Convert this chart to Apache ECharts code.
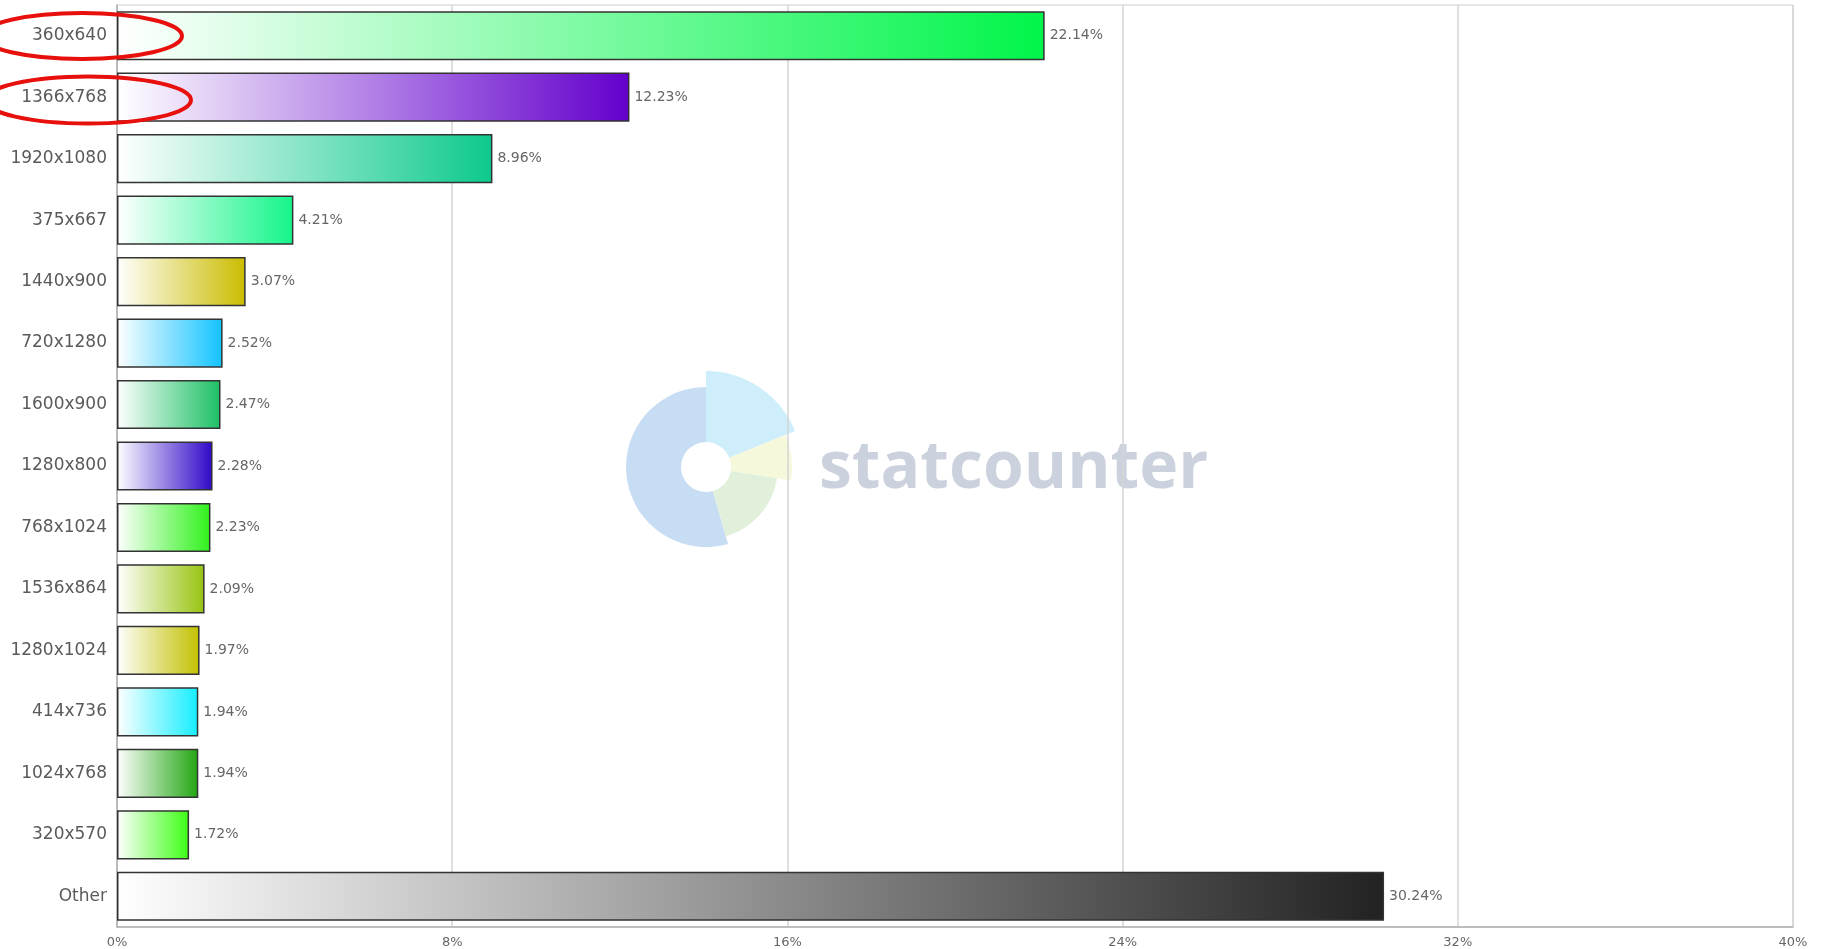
<!DOCTYPE html>
<html>
<head>
<meta charset="utf-8">
<script src="https://cdn.jsdelivr.net/npm/echarts@6/dist/echarts.min.js"></script>
<style>
  html, body { margin: 0; padding: 0; background: #fff; }
  #main { width: 1829px; height: 949px; }
</style>
</head>
<body>
<div id="main"></div>
<script>
// screen resolutions share (%)
var resolutions = ['360x640', '1366x768', '1920x1080', '375x667', '1440x900', '720x1280', '1600x900',
  '1280x800', '768x1024', '1536x864', '1280x1024', '414x736', '1024x768', '320x570', 'Other'];
var shares = [22.14, 12.23, 8.96, 4.21, 3.07, 2.52, 2.47, 2.28, 2.23, 2.09, 1.97, 1.94, 1.94, 1.72, 30.24];
// right-end colour of each bar gradient
var barColors = ['#00f54a', '#6300cc', '#0dc98e', '#14f58a', '#cbbc00', '#12c3ff', '#1cc064',
  '#3008c8', '#2ef21a', '#98c410', '#c2c000', '#14eeff', '#22a612', '#3cff14', '#222222'];
var xTicks = [0, 8, 16, 24, 32, 40];

var myChart = echarts.init(document.getElementById('main'));

var barData = shares.map(function (v, i) {
  return {
    value: v,
    itemStyle: {
      color: new echarts.graphic.LinearGradient(0, 0, 1, 0, [
        { offset: 0, color: '#ffffff' },
        { offset: 1, color: barColors[i] }
      ])
    }
  };
});

myChart.setOption({
  animation: false,
  grid: {
    left: 117,
    right: 36,
    top: 5,
    bottom: 21,
    show: true,
    borderColor: '#cfcfcf',
    borderWidth: 1
  },
  xAxis: {
    type: 'value',
    min: xTicks[0],
    max: xTicks[xTicks.length - 1],
    interval: 8,
    axisLine: { show: true, lineStyle: { color: '#b0b0b0', width: 1.5 } },
    axisTick: { show: false },
    splitLine: { lineStyle: { color: '#d4d4d4', width: 1.5 } },
    axisLabel: {
      formatter: '{value}%',
      color: '#666',
      fontSize: 13,
      fontFamily: 'DejaVu Sans',
      margin: 9
    }
  },
  yAxis: {
    type: 'category',
    data: resolutions,
    inverse: true,
    axisLine: { show: true, lineStyle: { color: '#b0b0b0', width: 1.5 } },
    axisTick: { show: false },
    axisLabel: {
      color: '#5a5a5a',
      fontSize: 17,
      fontFamily: 'DejaVu Sans',
      margin: 10,
      padding: [4, 0, 0, 0]
    }
  },
  graphic: [
    {
      type: 'group',
      z: -10,
      children: [
        { type: 'sector', shape: { cx: 706, cy: 467, r0: 25, r: 80, startAngle: 74 * Math.PI / 180, endAngle: 270 * Math.PI / 180 }, style: { fill: '#c6ddf4' } },
        { type: 'sector', shape: { cx: 706, cy: 467, r0: 25, r: 96, startAngle: -90 * Math.PI / 180, endAngle: -22 * Math.PI / 180 }, style: { fill: '#cdeefa' } },
        { type: 'sector', shape: { cx: 706, cy: 467, r0: 25, r: 86, startAngle: -22 * Math.PI / 180, endAngle: 9 * Math.PI / 180 }, style: { fill: '#f6f8dc' } },
        { type: 'sector', shape: { cx: 706, cy: 467, r0: 25, r: 72, startAngle: 9 * Math.PI / 180, endAngle: 74 * Math.PI / 180 }, style: { fill: '#e0f0da' } },
        {
          type: 'text', x: 819, y: 502,
          style: { text: 'statcounter', fill: '#cbd2de', font: 'bold 66px "Open Sans"', verticalAlign: 'bottom' }
        }
      ]
    },
    { type: 'ellipse', z: 100, shape: { cx: 82, cy: 36, rx: 100, ry: 23 }, style: { fill: 'none', stroke: '#e8100c', lineWidth: 4 } },
    { type: 'ellipse', z: 100, shape: { cx: 88, cy: 100, rx: 103, ry: 23.5 }, style: { fill: 'none', stroke: '#e8100c', lineWidth: 4 } }
  ],
  series: [
    {
      type: 'bar',
      data: barData,
      barWidth: '80%',
      itemStyle: { borderColor: '#333', borderWidth: 1.5 },
      label: {
        show: true,
        position: 'right',
        distance: 5,
        formatter: '{c}%',
        color: '#666',
        fontSize: 14,
        fontFamily: 'DejaVu Sans'
      }
    }
  ]
});
</script>
</body>
</html>
